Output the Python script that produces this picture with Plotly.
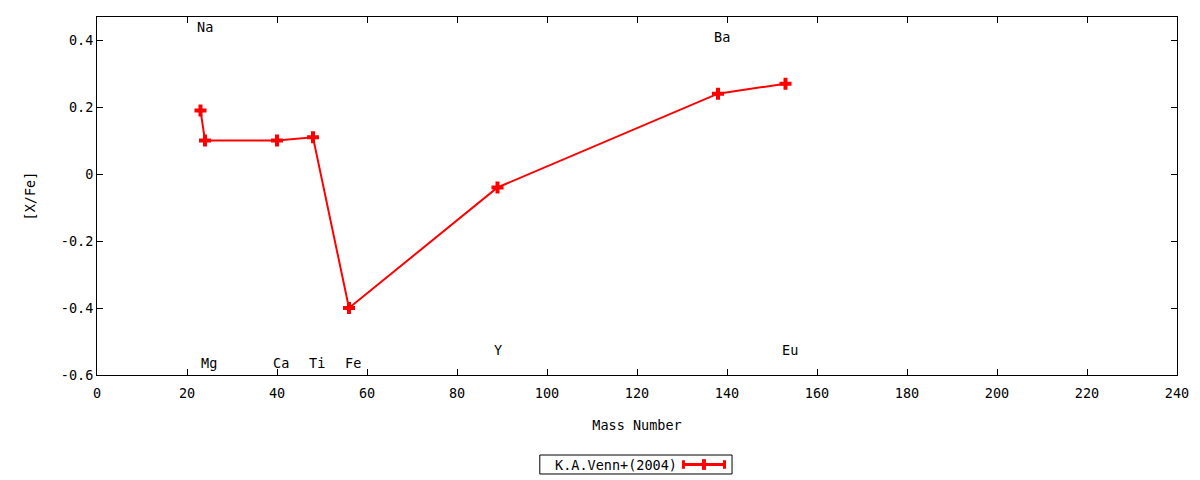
import plotly.graph_objects as go

# abundance data (K.A.Venn+ 2004)
elements = ['Na', 'Mg', 'Ca', 'Ti', 'Fe', 'Y', 'Ba', 'Eu']
mass_number = [23, 24, 40, 48, 56, 89, 138, 153]
x_fe = [0.19, 0.10, 0.10, 0.11, -0.40, -0.04, 0.24, 0.27]

# element label heights
label_y = [0.44, -0.565, -0.565, -0.565, -0.565, -0.525, 0.41, -0.525]

x_ticks = list(range(0, 241, 20))
y_ticks = [-0.6, -0.4, -0.2, 0, 0.2, 0.4]

font = dict(family='DejaVu Sans Mono', size=13.5, color='black')

fig = go.Figure()

fig.add_trace(go.Scatter(
    x=mass_number, y=x_fe,
    mode='lines+markers',
    name='K.A.Venn+(2004)',
    line=dict(color='#ff0000', width=2),
    marker=dict(symbol='cross', size=10, color='#ff0000'),
    showlegend=False,
))

# element labels (left aligned at the mass number, like gnuplot labels)
for el, m, ly in zip(elements, mass_number, label_y):
    fig.add_annotation(x=m, y=ly, text=el, showarrow=False,
                       xanchor='left', yanchor='middle', xshift=-6,
                       font=font)

# gnuplot-like legend box, text left and sample right
fig.add_shape(type='rect', xref='paper', yref='paper',
              x0=0.410, x1=0.588, y0=-0.2765, y1=-0.2235,
              line=dict(color='black', width=1))
fig.add_annotation(xref='paper', yref='paper', x=0.481, y=-0.25,
                   xanchor='center', yanchor='middle',
                   text='K.A.Venn+(2004)', showarrow=False, font=font)
fig.add_shape(type='line', xref='paper', yref='paper',
              x0=0.543, x1=0.581, y0=-0.25, y1=-0.25,
              line=dict(color='#ff0000', width=3))
for xc in [0.543, 0.581]:
    fig.add_shape(type='line', xref='paper', yref='paper',
                  x0=xc, x1=xc, y0=-0.262, y1=-0.238,
                  line=dict(color='#ff0000', width=3))
fig.add_shape(type='line', xref='paper', yref='paper',
              x0=0.562, x1=0.562, y0=-0.265, y1=-0.235,
              line=dict(color='#ff0000', width=4))

axis_common = dict(
    showgrid=False, zeroline=False, showline=True, linecolor='black',
    linewidth=1, mirror='allticks', ticks='inside', ticklen=6,
    tickcolor='black', tickfont=font,
)

fig.update_xaxes(range=[0, 240], tickvals=x_ticks, ticklabelstandoff=6,
                 title=dict(text='Mass Number', font=font, standoff=20),
                 **axis_common)
fig.update_yaxes(range=[-0.6, 0.469], tickvals=y_ticks,
                 ticktext=['-0.6', '-0.4', '-0.2', '0', '0.2', '0.4'],
                 ticklabelstandoff=0,
                 title=dict(text='[X/Fe]', font=font, standoff=22),
                 **axis_common)

# page body adds an 8px offset, so margins are trimmed to compensate
fig.update_layout(
    width=1200, height=480,
    margin=dict(l=89, r=31, t=9, b=113),
    plot_bgcolor='white', paper_bgcolor='white',
    font=font,
)

fig.write_html('out.html')
